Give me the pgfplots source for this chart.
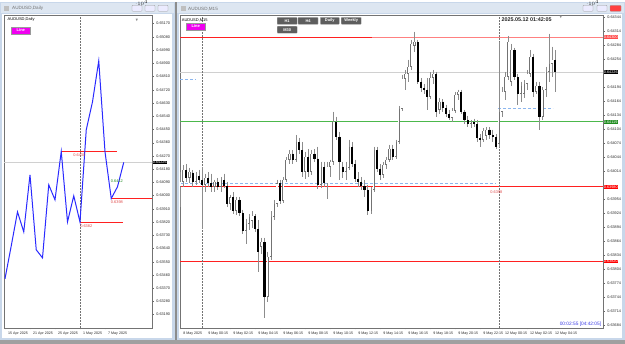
\documentclass[border=0pt]{standalone}
\usepackage{amssymb}
\usepackage{fontspec}
\setmainfont{Liberation Sans}
\usepackage{pgfplots}
\pgfplotsset{compat=1.18}
\usepackage{pgfplotstable}

\definecolor{mdibg}{HTML}{A0A0A0}
\definecolor{wframe}{HTML}{C8D7EA}
\definecolor{titlebar}{HTML}{DDE6F1}
\definecolor{lineblue}{HTML}{2A2AFF}
\definecolor{btn}{HTML}{5E5E5E}
\definecolor{mag}{HTML}{F000F0}
\definecolor{grn}{HTML}{4CB84C}
\definecolor{grnbox}{HTML}{1E8C1E}
\definecolor{lblue}{HTML}{8CB6EE}
\definecolor{curgray}{HTML}{D0D0D0}
\definecolor{lvl}{HTML}{E04848}
\definecolor{timeblue}{HTML}{3C3CE6}
\definecolor{lred}{HTML}{FF2020}
\definecolor{pred}{HTML}{FF8080}

\pgfplotstableread{
i o h l c
-7 63980 64012 63937 63991
-6 63991 64027 63980 64016
-5 64016 64029 63991 63999
-4 63999 64021 63987 64012
-3 64010 64016 63980 63991
-2 63991 64012 63984 64004
-1 64004 64016 63987 63995
0 63995 64023 63890 63984
1 63984 64008 63969 63999
2 63999 64012 63980 63989
3 63989 64008 63969 63980
4 63980 63995 63969 63991
5 63991 63999 63974 63980
6 63980 64001 63969 63995
7 63995 64008 63978 63982
8 63982 63991 63937 63944
9 63944 63963 63931 63957
10 63957 63969 63922 63929
11 63929 63959 63920 63952
12 63952 63959 63918 63924
13 63924 63931 63879 63886
14 63886 63912 63858 63901
15 63901 63922 63888 63916
16 63907 63927 63892 63918
17 63918 63922 63884 63890
18 63890 63909 63798 63841
19 63852 63871 63837 63862
20 63862 63871 63698 63745
21 63745 63841 63734 63830
22 63830 63927 63824 63916
23 63916 63952 63909 63944
24 63944 63995 63937 63987
25 63987 63995 63944 63950
26 63950 64001 63946 63995
27 63995 64044 63991 64038
28 64038 64059 64029 64051
29 64051 64059 64029 64038
30 64038 64091 64034 64076
31 64076 64085 64051 64059
32 64059 64076 64001 64012
33 64012 64055 63997 64044
34 64044 64061 64001 64012
35 64012 64059 64006 64051
36 64051 64061 64034 64040
37 64040 64066 63976 63984
38 63984 64034 63978 64023
39 64023 64034 63980 63987
40 63987 64034 63954 64023
41 64023 64038 64001 64034
42 64034 64141 64027 64119
43 64119 64130 64081 64087
44 64087 64098 63995 64034
45 64023 64034 63999 64012
46 64012 64034 63995 64021
47 64021 64081 64016 64066
48 64066 64076 64023 64029
49 64029 64038 63991 63997
50 63997 64012 63980 63991
51 63991 64001 63974 63982
52 63982 63995 63959 63974
53 63974 63984 63920 63927
54 63927 63980 63922 63974
55 63974 64066 63969 64059
56 64059 64066 64012 64019
57 64019 64029 63995 64006
58 64006 64034 63999 64027
59 64027 64044 64019 64038
60 64038 64070 64034 64061
61 64061 64070 64038 64044
62 64044 64081 64040 64076
63 64076 64153 64072 64147
64 64147 64220 64143 64211
65 64211 64230 64188 64222
66 64222 64252 64205 64237
67 64237 64295 64230 64286
68 64282 64312 64269 64290
69 64290 64295 64200 64205
70 64205 64213 64183 64192
71 64192 64200 64179 64188
72 64188 64213 64145 64173
73 64173 64226 64168 64213
74 64213 64230 64200 64222
75 64222 64226 64130 64141
76 64145 64171 64136 64162
77 64162 64168 64141 64149
78 64149 64156 64130 64136
79 64136 64145 64123 64128
80 64128 64149 64119 64143
81 64143 64183 64138 64177
82 64177 64188 64166 64183
83 64183 64188 64136 64141
84 64141 64145 64115 64123
85 64123 64132 64108 64115
86 64115 64123 64106 64119
87 64119 64126 64108 64115
88 64115 64123 64076 64085
89 64085 64093 64066 64081
90 64081 64106 64076 64100
91 64089 64108 64081 64102
92 64102 64108 64083 64091
93 64091 64102 64076 64087
94 64087 64093 64061 64066
95 64072 64290 64066 64141
96 64141 64194 64130 64183
97 64183 64226 64166 64215
98 64215 64303 64209 64290
99 64205 64286 64196 64273
100 64273 64278 64209 64215
101 64215 64222 64156 64179
102 64179 64205 64162 64196
103 64179 64209 64171 64200
104 64200 64230 64188 64222
105 64222 64273 64215 64258
106 64258 64265 64173 64183
107 64183 64205 64179 64196
108 64196 64205 64102 64130
109 64130 64194 64123 64188
110 64188 64237 64173 64226
111 64226 64308 64205 64243
112 64243 64280 64215 64252
113 64252 64273 64183 64226
}\candles

\pgfplotstableread{
i p
0 63434
1 63658
2 63889
3 63753
4 64141
5 63631
6 63576
7 64073
8 63971
9 64300
10 63821
11 63998
12 63820
13 64447
14 64638
15 64917
16 64298
17 63980
18 64060
19 64226
}\daily

\pgfplotsset{mt/.style={
  scale only axis, anchor=south west, clip mode=individual,
  axis line style={black!55, line width=0.4pt},
  tick align=outside, major tick length=1.6pt,
  tick style={black!60, line width=0.3pt},
  xtick pos=bottom, ytick pos=right, yticklabel pos=right,
  yticklabel style={font=\fontsize{3.8}{4}\selectfont, text=black!85, xshift=-0.8pt},
  xticklabel style={font=\fontsize{3.6}{4}\selectfont, text=black!85, anchor=north west, xshift=-0.3pt, yshift=0.6pt},
  axis background/.style={fill=white},
},
candle/.style n args={2}{mark=none, draw=none, forget plot,
  error bars/.cd, y dir=minus, y explicit, error mark=none,
  error bar style={draw=#1, line width=#2}},
}
\tikzset{
  pbox/.style={anchor=west, text=white, inner sep=0.45pt, xshift=0.3pt,
    font=\fontsize{3.8}{4}\selectfont},
  lvltxt/.style={text=lvl, inner sep=0.3pt, font=\fontsize{3.9}{4}\selectfont},
  tbtn/.style={fill=btn, draw=black!30, line width=0.3pt, rounded corners=0.6pt},
  wbtn/.style={fill=white!92!blue, draw=black!40, line width=0.3pt, rounded corners=0.8pt},
}

\begin{document}
\begin{tikzpicture}
\begin{scope}[x=1pt, y=-1pt, shift={(0pt,342pt)}]
  \fill[mdibg] (0,0) rectangle (625,342);
  \useasboundingbox (0,0) rectangle (625,342);
  % left window
  \fill[wframe] (0,0) rectangle (175,338);
  \fill[titlebar] (1,1) rectangle (174,11);
  \fill[white] (2,12) rectangle (172,336);
  \node[anchor=west, inner sep=0pt, text=black!55, font=\fontsize{4.6}{5}\selectfont] at (12,6.5) {AUDUSD,Daily};
  \fill[black!25] (4,4) rectangle (9,9);
  \draw[wbtn] (132,3.5) rectangle (142,9.5);
  \draw[wbtn] (145,3.5) rectangle (155,9.5);
  \draw[wbtn] (158,3.5) rectangle (168,9.5);
  % right window
  \fill[black!45] (175,0) rectangle (176.5,338);
  \fill[wframe] (176.5,0) rectangle (625,338);
  \fill[titlebar] (177,1) rectangle (624,11);
  \fill[white] (179,12) rectangle (622,336);
  \node[anchor=west, inner sep=0pt, text=black!55, font=\fontsize{4.6}{5}\selectfont] at (188,7) {AUDUSD,M15};
  \fill[black!25] (180.5,4.5) rectangle (185.5,9.5);
  \draw[wbtn] (583,3.5) rectangle (593,9.5);
  \draw[wbtn] (597,3.5) rectangle (607,9.5);
  \draw[fill=red!75, draw=black!40, line width=0.3pt, rounded corners=0.8pt] (610,3.5) rectangle (621,9.5);
\end{scope}

% ---------------- left: daily line chart ----------------
\begin{axis}[mt, at={(4pt,16pt)}, width=148pt, height=313pt,
  xmin=-0.16, xmax=23.52, ymin=63100, ymax=65230,
  ytick={63190,63280,63370,63460,63550,63640,63730,63820,63910,64000,64090,64180,64270,64360,64450,64540,64630,64720,64810,64900,64990,65080,65170},
  yticklabels={0.63190,0.63280,0.63370,0.63460,0.63550,0.63640,0.63730,0.63820,0.63910,0.64000,0.64090,0.64180,0.64270,0.64360,0.64450,0.64540,0.64630,0.64720,0.64810,0.64900,0.64990,0.65080,0.65170},
  xtick={0,4,8,12,16},
  xticklabels={15 Apr 2025,21 Apr 2025,25 Apr 2025,1 May 2025,7 May 2025}]
  \addplot[curgray, line width=0.6pt] coordinates {(-0.16,64226) (23.52,64226)};
  \addplot[black!55, densely dotted, line width=0.5pt] coordinates {(12,63100) (12,65230)};
  \addplot[lred, line width=1pt] coordinates {(9,64300) (17.9,64300)};
  \addplot[lred, line width=1pt] coordinates {(17,63980) (23.52,63980)};
  \addplot[lred, line width=1pt] coordinates {(12,63820) (18.9,63820)};
  \addplot[lineblue, line width=1pt, mark=none] table[x=i, y=p] {\daily};
  \node[lvltxt, anchor=north] at (axis cs:11.9,64285) {0.6430};
  \node[lvltxt, anchor=north] at (axis cs:17.9,63965) {0.6398};
  \node[lvltxt, anchor=north] at (axis cs:13,63805) {0.6382};
  \node[text=grnbox, inner sep=0.3pt, font=\fontsize{3.9}{4}\selectfont] at (axis cs:17.9,64100) {0.6412};
  \node[pbox, fill=black] at (axis cs:23.52,64226) {0.64226};
  \node[anchor=north west, inner sep=0pt, font=\fontsize{4}{4.5}\selectfont] at (axis cs:0.4,65215) {AUDUSD,Daily};
  \node[anchor=north west, fill=mag, text=white, draw=black!40, line width=0.2pt, inner sep=0pt,
        minimum width=19pt, minimum height=7pt, font=\bfseries\fontsize{4}{4.5}\selectfont] at (axis cs:1.0,65150) {Line};
  \node[text=black!45, inner sep=0pt, font=\fontsize{4}{4}\selectfont] at (axis cs:21.1,65195) {$\blacktriangledown$};
\end{axis}

% ---------------- right: M15 candles ----------------
\begin{axis}[mt, at={(180pt,16pt)}, width=423pt, height=313pt,
  xmin=-7.04, xmax=128.32, ymin=63678, ymax=64348,
  ytick={63684,63714,63744,63774,63804,63834,63864,63894,63924,63954,64014,64044,64074,64104,64134,64164,64194,64254,64284,64314,64344},
  yticklabels={0.63684,0.63714,0.63744,0.63774,0.63804,0.63834,0.63864,0.63894,0.63924,0.63954,0.64014,0.64044,0.64074,0.64104,0.64134,0.64164,0.64194,0.64254,0.64284,0.64314,0.64344},
  xtick={-7,1,9,17,25,33,41,49,57,65,73,81,89,96,104,112},
  xticklabels={8 May 2025,9 May 00:15,9 May 02:15,9 May 04:15,9 May 06:15,9 May 08:15,9 May 10:15,9 May 12:15,9 May 14:15,9 May 16:15,9 May 18:15,9 May 20:15,9 May 22:15,12 May 00:15,12 May 02:15,12 May 04:15}]
  % levels
  \addplot[curgray, line width=0.6pt] coordinates {(-7.04,64226) (128.32,64226)};
  \addplot[pred, line width=1pt] coordinates {(-7.04,64300) (128.32,64300)};
  \addplot[lred, line width=1pt] coordinates {(-7.04,64300) (54.4,64300)};
  \addplot[grn, line width=1pt] coordinates {(-7.04,64119) (128.32,64119)};
  \addplot[lred, line width=1pt] coordinates {(-7.04,63980) (128.32,63980)};
  \addplot[lred, line width=1pt] coordinates {(-7.04,63820) (128.32,63820)};
  \addplot[lblue, line width=0.6pt, dash pattern=on 3pt off 2pt] coordinates {(-7.04,63987) (94,63987)};
  \addplot[lblue, line width=0.6pt, dash pattern=on 3pt off 2pt] coordinates {(-7.04,64209) (-2,64209)};
  \addplot[lblue, line width=0.6pt, dash pattern=on 3pt off 2pt] coordinates {(94.7,64148) (112.3,64148)};
  % period separators
  \addplot[black!55, densely dotted, line width=0.5pt] coordinates {(0,63678) (0,64348)};
  \addplot[black!55, densely dotted, line width=0.5pt] coordinates {(95,63678) (95,64348)};
  % wicks
  \addplot[candle={black!45}{0.5pt}]
     table[x=i, y=h, y error minus expr={\thisrow{h}-\thisrow{l}}] {\candles};
  % bearish bodies
  \addplot[candle={black}{2.1pt}]
     table[x=i, y=o, y error minus expr={max(\thisrow{o}-\thisrow{c},0)}] {\candles};
  % bullish bodies (outline + white fill)
  \addplot[candle={black!55}{2.1pt}]
     table[x=i, y=c, y error minus expr={max(\thisrow{c}-\thisrow{o},0)}] {\candles};
  \addplot[candle={white}{1.2pt}]
     table[x=i, y expr={\thisrow{c}-1}, y error minus expr={max(\thisrow{c}-\thisrow{o}-2,0)}] {\candles};
  % texts and boxes
  \node[lvltxt, anchor=north] at (axis cs:94.2,63972) {0.6398};
  \node[pbox, fill=red!70] at (axis cs:128.32,64300) {0.64300};
  \node[pbox, fill=black] at (axis cs:128.32,64226) {0.64226};
  \node[pbox, fill=grnbox] at (axis cs:128.32,64119) {0.64119};
  \node[pbox, fill=red] at (axis cs:128.32,63980) {0.63980};
  \node[pbox, fill=red] at (axis cs:128.32,63820) {0.63820};
  \node[anchor=north west, inner sep=0pt, font=\fontsize{4}{4.5}\selectfont] at (axis cs:-6.5,64341) {AUDUSD,M15};
  \node[anchor=north west, fill=mag, text=white, draw=black!40, line width=0.2pt, inner sep=0pt,
        minimum width=19pt, minimum height=7pt, font=\bfseries\fontsize{4}{4.5}\selectfont] at (axis cs:-5.1,64331) {Line};
  \node[anchor=north, inner sep=0pt, font=\bfseries\fontsize{5.4}{6}\selectfont, text=black!85] at (axis cs:103.9,64342) {2025.05.12 01:42:05};
  \node[text=black!45, inner sep=0pt, font=\fontsize{4}{4}\selectfont] at (axis cs:114.8,64343) {$\blacktriangledown$};
  \node[anchor=south east, inner sep=0pt, font=\fontsize{4.8}{5}\selectfont, text=timeblue] at (axis cs:127.8,63680) {00:02:55 [04:42:05]};
  % timeframe buttons
  \node[tbtn, anchor=north west, text=white, inner sep=0pt, minimum width=20pt, minimum height=7pt, font=\bfseries\fontsize{4}{4.5}\selectfont] at (axis cs:24.0,64343) {H1};
  \node[tbtn, anchor=north west, text=white, inner sep=0pt, minimum width=20pt, minimum height=7pt, font=\bfseries\fontsize{4}{4.5}\selectfont] at (axis cs:30.7,64343) {H4};
  \node[tbtn, anchor=north west, text=white, inner sep=0pt, minimum width=19pt, minimum height=7pt, font=\bfseries\fontsize{4}{4.5}\selectfont] at (axis cs:37.8,64343) {Daily};
  \node[tbtn, anchor=north west, text=white, inner sep=0pt, minimum width=20pt, minimum height=7pt, font=\bfseries\fontsize{4}{4.5}\selectfont] at (axis cs:44.5,64343) {Weekly};
  \node[tbtn, anchor=north west, text=white, inner sep=0pt, minimum width=20pt, minimum height=7pt, font=\bfseries\fontsize{4}{4.5}\selectfont] at (axis cs:24.0,64324) {M30};
\end{axis}
\end{tikzpicture}
\end{document}
